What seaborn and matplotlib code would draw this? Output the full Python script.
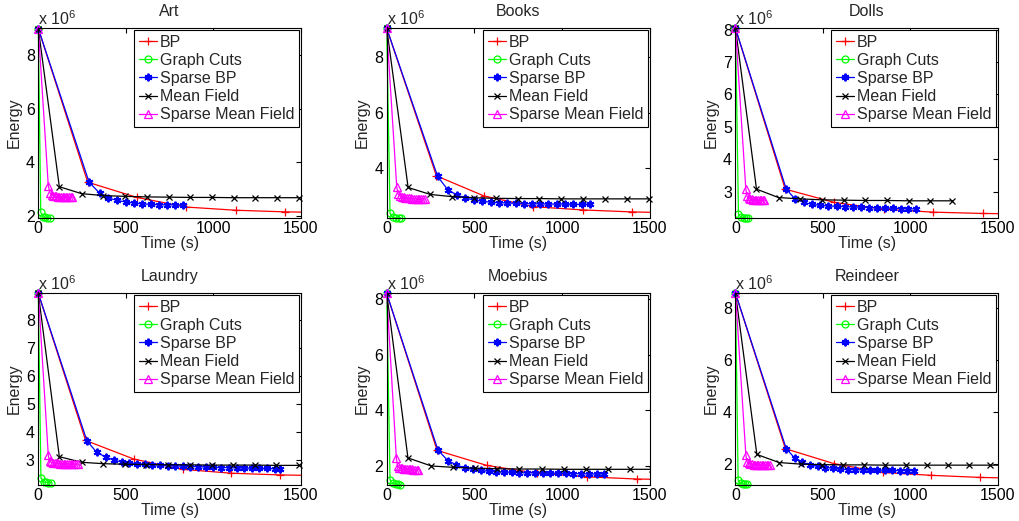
import numpy as np
import pandas as pd
import matplotlib
matplotlib.use("Agg")
import matplotlib.pyplot as plt
import seaborn as sns

# ---------------- data (energies in units of 1e6) ----------------
titles = ["Art", "Books", "Dolls", "Laundry", "Moebius", "Reindeer"]
series_names = ["BP", "Graph Cuts", "Sparse BP", "Mean Field", "Sparse Mean Field"]

# Art
art_bp_t = [0, 282, 563, 845, 1127, 1408, 1690]
art_bp_e = [9.0, 3.25, 2.68, 2.32, 2.20, 2.14, 2.11]
art_gc_t = [0, 14, 28, 40, 52, 64]
art_gc_e = [9.0, 2.12, 1.95, 1.93, 1.92, 1.92]
art_sbp_t = [0, 290, 350, 400, 448, 498, 546, 594, 641, 688, 734, 780, 826]
art_sbp_e = [9.0, 3.25, 2.84, 2.66, 2.57, 2.51, 2.47, 2.44, 2.42, 2.41, 2.40, 2.40, 2.39]
art_mf_t = [0, 120, 248, 372, 496, 620, 744, 868, 992, 1116, 1240, 1364, 1488]
art_mf_e = [9.0, 3.08, 2.82, 2.75, 2.72, 2.70, 2.69, 2.68, 2.68, 2.67, 2.67, 2.67, 2.67]
art_smf_t = [0, 57, 67, 76, 85, 94, 103, 112, 121, 130, 139, 148, 157, 166, 175, 184, 193]
art_smf_e = [9.0, 3.12, 2.85, 2.78, 2.75, 2.73, 2.72, 2.71, 2.70, 2.70, 2.69, 2.69, 2.69, 2.68, 2.68, 2.68, 2.68]

# Books
books_bp_t = [0, 283, 556, 836, 1117, 1398, 1680]
books_bp_e = [9.04, 3.72, 2.99, 2.61, 2.49, 2.42, 2.38]
books_gc_t = [0, 19, 36, 54, 70, 84]
books_gc_e = [9.04, 2.37, 2.22, 2.21, 2.20, 2.20]
books_sbp_t = [0, 290, 349, 400, 448, 497, 545, 592, 640, 688, 734, 781, 828, 874, 921, 968, 1015, 1062, 1110, 1156]
books_sbp_e = [9.04, 3.70, 3.21, 3.03, 2.92, 2.85, 2.80, 2.77, 2.75, 2.74, 2.73, 2.72, 2.71, 2.71, 2.70, 2.70, 2.70, 2.69, 2.69, 2.69]
books_mf_t = [0, 122, 248, 372, 497, 621, 746, 870, 995, 1119, 1243, 1368, 1492]
books_mf_e = [9.04, 3.30, 3.05, 2.97, 2.93, 2.91, 2.90, 2.90, 2.89, 2.89, 2.89, 2.89, 2.89]
books_smf_t = [0, 57, 66, 76, 86, 96, 106, 116, 126, 136, 146, 156, 166, 176, 186, 196, 206, 216]
books_smf_e = [9.04, 3.33, 3.05, 2.99, 2.96, 2.94, 2.93, 2.92, 2.91, 2.91, 2.90, 2.90, 2.90, 2.89, 2.89, 2.89, 2.89, 2.89]

# Dolls
dolls_bp_t = [0, 284, 565, 848, 1131, 1414, 1697]
dolls_bp_e = [8.04, 3.08, 2.67, 2.46, 2.37, 2.33, 2.31]
dolls_gc_t = [0, 17, 33, 47, 60, 72]
dolls_gc_e = [8.04, 2.30, 2.21, 2.20, 2.19, 2.19]
dolls_sbp_t = [0, 290, 338, 389, 437, 485, 531, 578, 624, 670, 716, 762, 808, 852, 898, 944, 988, 1032]
dolls_sbp_e = [8.04, 3.08, 2.79, 2.67, 2.61, 2.58, 2.56, 2.55, 2.54, 2.53, 2.52, 2.51, 2.50, 2.49, 2.49, 2.48, 2.47, 2.47]
dolls_mf_t = [0, 120, 246, 370, 494, 618, 742, 866, 990, 1114, 1240]
dolls_mf_e = [8.04, 3.08, 2.82, 2.78, 2.75, 2.74, 2.73, 2.73, 2.72, 2.72, 2.72]
dolls_smf_t = [0, 59, 66, 75, 84, 93, 102, 111, 120, 129, 138, 147, 156, 165]
dolls_smf_e = [8.04, 3.08, 2.86, 2.80, 2.78, 2.77, 2.76, 2.76, 2.75, 2.75, 2.75, 2.74, 2.74, 2.74]

# Laundry
laundry_bp_t = [0, 270, 548, 825, 1102, 1378, 1655]
laundry_bp_e = [8.95, 3.70, 3.03, 2.67, 2.53, 2.47, 2.44]
laundry_gc_t = [0, 15, 30, 44, 57, 70]
laundry_gc_e = [8.95, 2.36, 2.22, 2.20, 2.19, 2.19]
laundry_sbp_t = [0, 278, 333, 387, 432, 476, 520, 563, 607, 650, 694, 738, 782, 825, 869, 913, 957,
                 1000, 1044, 1088, 1132, 1176, 1219, 1263, 1307, 1351, 1382]
laundry_sbp_e = [8.95, 3.68, 3.28, 3.10, 3.00, 2.93, 2.89, 2.87, 2.85, 2.83, 2.82, 2.80, 2.79, 2.78, 2.77,
                 2.76, 2.75, 2.74, 2.73, 2.73, 2.72, 2.71, 2.71, 2.70, 2.70, 2.69, 2.69]
laundry_mf_t = [0, 120, 248, 371, 494, 617, 741, 865, 989, 1112, 1236, 1360, 1487]
laundry_mf_e = [8.95, 3.12, 2.92, 2.87, 2.85, 2.84, 2.83, 2.83, 2.82, 2.82, 2.82, 2.81, 2.81]
laundry_smf_t = [0, 57, 64, 74, 84, 94, 104, 114, 124, 134, 144, 154, 164, 174, 184, 194, 204, 214, 224]
laundry_smf_e = [8.95, 3.17, 2.96, 2.92, 2.90, 2.89, 2.88, 2.88, 2.87, 2.87, 2.87, 2.86, 2.86, 2.86, 2.86,
                 2.86, 2.85, 2.85, 2.85]

# Moebius
moebius_bp_t = [0, 287, 570, 855, 1140, 1426, 1712]
moebius_bp_e = [8.2, 2.55, 2.01, 1.73, 1.60, 1.52, 1.49]
moebius_gc_t = [0, 19, 36, 52, 66, 78]
moebius_gc_e = [8.2, 1.48, 1.36, 1.34, 1.33, 1.32]
moebius_sbp_t = [0, 292, 349, 397, 445, 492, 536, 580, 624, 668, 712, 756, 800, 844, 888, 932, 976,
                 1020, 1064, 1108, 1152, 1196, 1240]
moebius_sbp_e = [8.2, 2.56, 2.18, 2.03, 1.92, 1.87, 1.83, 1.80, 1.78, 1.77, 1.76, 1.75, 1.74, 1.74, 1.73,
                 1.73, 1.72, 1.72, 1.71, 1.71, 1.70, 1.70, 1.70]
moebius_mf_t = [0, 121, 254, 378, 503, 629, 756, 882, 1008, 1135, 1261, 1388, 1514]
moebius_mf_e = [8.2, 2.28, 1.99, 1.94, 1.91, 1.89, 1.88, 1.88, 1.87, 1.87, 1.87, 1.87, 1.87]
moebius_smf_t = [0, 55, 62, 71, 80, 89, 98, 107, 116, 125, 134, 143, 152, 161, 170, 180]
moebius_smf_e = [8.2, 2.28, 1.98, 1.93, 1.91, 1.90, 1.89, 1.88, 1.88, 1.87, 1.87, 1.87, 1.86, 1.86, 1.86, 1.86]

# Reindeer
reindeer_bp_t = [0, 285, 562, 842, 1120, 1400, 1680]
reindeer_bp_e = [8.55, 2.60, 2.03, 1.69, 1.58, 1.50, 1.46]
reindeer_gc_t = [0, 15, 30, 43, 55, 66]
reindeer_gc_e = [8.55, 1.40, 1.27, 1.25, 1.24, 1.23]
reindeer_sbp_t = [0, 290, 340, 382, 426, 470, 513, 557, 599, 641, 685, 727, 769, 811, 855, 897, 939, 981, 1022]
reindeer_sbp_e = [8.55, 2.60, 2.23, 2.08, 1.99, 1.92, 1.88, 1.85, 1.82, 1.80, 1.79, 1.79, 1.78, 1.78, 1.77,
                  1.77, 1.76, 1.76, 1.75]
reindeer_mf_t = [0, 122, 249, 372, 492, 612, 732, 852, 972, 1092, 1212, 1332, 1452, 1572]
reindeer_mf_e = [8.55, 2.38, 2.07, 2.01, 1.99, 1.98, 1.98, 1.97, 1.97, 1.97, 1.97, 1.97, 1.97, 1.97]
reindeer_smf_t = [0, 59, 66, 75, 84, 94, 103, 112, 122, 131, 140, 150, 159, 168, 178, 187, 196]
reindeer_smf_e = [8.55, 2.37, 2.10, 2.04, 2.01, 2.00, 1.99, 1.99, 1.98, 1.98, 1.98, 1.97, 1.97, 1.97, 1.97,
                  1.97, 1.97]

# axis settings (energy in 1e6)
y_limits = [(1.91, 9.01), (2.2, 9.04), (2.19, 8.04), (2.11, 8.95), (1.305, 8.205), (1.21, 8.55)]
y_ticks = [[2, 4, 6, 8], [4, 6, 8], [3, 4, 5, 6, 7, 8], [3, 4, 5, 6, 7, 8], [2, 4, 6, 8], [2, 4, 6, 8]]
x_ticks = [0, 500, 1000, 1500]

panels = [
    [(art_bp_t, art_bp_e), (art_gc_t, art_gc_e), (art_sbp_t, art_sbp_e), (art_mf_t, art_mf_e), (art_smf_t, art_smf_e)],
    [(books_bp_t, books_bp_e), (books_gc_t, books_gc_e), (books_sbp_t, books_sbp_e), (books_mf_t, books_mf_e), (books_smf_t, books_smf_e)],
    [(dolls_bp_t, dolls_bp_e), (dolls_gc_t, dolls_gc_e), (dolls_sbp_t, dolls_sbp_e), (dolls_mf_t, dolls_mf_e), (dolls_smf_t, dolls_smf_e)],
    [(laundry_bp_t, laundry_bp_e), (laundry_gc_t, laundry_gc_e), (laundry_sbp_t, laundry_sbp_e), (laundry_mf_t, laundry_mf_e), (laundry_smf_t, laundry_smf_e)],
    [(moebius_bp_t, moebius_bp_e), (moebius_gc_t, moebius_gc_e), (moebius_sbp_t, moebius_sbp_e), (moebius_mf_t, moebius_mf_e), (moebius_smf_t, moebius_smf_e)],
    [(reindeer_bp_t, reindeer_bp_e), (reindeer_gc_t, reindeer_gc_e), (reindeer_sbp_t, reindeer_sbp_e), (reindeer_mf_t, reindeer_mf_e), (reindeer_smf_t, reindeer_smf_e)],
]

# ---------------- style ----------------
colors = ["#FF0000", "#00FF00", "#0000FF", "#000000", "#FF00FF"]
markers = ["+", "o", (6, 2, 0), "x", "^"]
msizes = [6, 5, 5.5, 4, 6]
mews = [0.9, 0.9, 1.4, 0.9, 0.9]

sns.set_style("white")
plt.rcParams["font.family"] = ["Liberation Sans", "DejaVu Sans"]
plt.rcParams["mathtext.fontset"] = "custom"
plt.rcParams["mathtext.rm"] = "Liberation Sans"
plt.rcParams["mathtext.default"] = "regular"
FS = 11.5

W, H = 1020, 521
fig = plt.figure(figsize=(W / 100, H / 100), dpi=100)

col_px = [(38.3, 301.0), (386.7, 650.0), (735.5, 998.0)]
row_px = [(28.3, 218.0), (293.3, 485.0)]

for i, name in enumerate(titles):
    r, c = divmod(i, 3)
    l, rr = col_px[c]
    t, b = row_px[r]
    ax = fig.add_axes([l / W, (H - b) / H, (rr - l) / W, (b - t) / H])
    for k, (tt, ee) in enumerate(panels[i]):
        df = pd.DataFrame({"t": tt, "e": ee})
        clip = max(tt) > 1500
        sns.lineplot(data=df, x="t", y="e", ax=ax, sort=False, estimator=None,
                     color=colors[k], marker=markers[k], markersize=msizes[k],
                     markerfacecolor="none", markeredgecolor=colors[k],
                     markeredgewidth=mews[k], linewidth=0.9, label=series_names[k],
                     clip_on=clip)
    ax.set_xlim(0, 1500)
    ax.set_ylim(*y_limits[i])
    ax.set_xticks(x_ticks)
    ax.set_yticks(y_ticks[i])
    ax.tick_params(direction="in", top=True, right=True, length=3.5, width=0.8,
                   labelsize=FS, colors="black", pad=2.5)
    for sp in ax.spines.values():
        sp.set_color("black")
        sp.set_linewidth(0.8)
    ax.set_title(name, fontsize=FS, pad=9)
    ax.set_xlabel("Time (s)", fontsize=FS, labelpad=0)
    ax.set_ylabel("Energy", fontsize=FS, labelpad=3)
    ax.annotate(r"x 10$^{6}$", xy=(0, 1), xycoords="axes fraction",
                xytext=(0, 2.5), textcoords="offset points",
                ha="left", va="baseline", fontsize=FS)
    handles, labels = ax.get_legend_handles_labels()
    leg = ax.legend(handles, labels, loc="upper right", fontsize=FS, frameon=True,
                    fancybox=False, borderaxespad=0.12, borderpad=0.3,
                    labelspacing=0.19, handlelength=1.1, handletextpad=0.2)
    leg.get_frame().set_edgecolor("black")
    leg.get_frame().set_linewidth(0.8)
    leg.get_frame().set_alpha(1.0)

fig.savefig("out.png", dpi=100)
